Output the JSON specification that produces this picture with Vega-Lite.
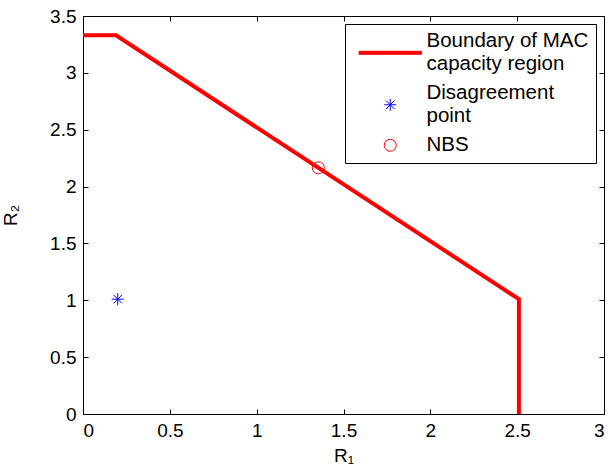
{
  "$schema": "https://vega.github.io/schema/vega-lite/v6.json",
  "autosize": {"type": "none"},
  "padding": {"left": 83, "top": 16, "right": 6, "bottom": 58},
  "width": 521,
  "height": 398,
  "background": "white",
  "config": {
    "font": "Liberation Sans",
    "view": {"stroke": "black", "strokeWidth": 1},
    "axis": {
      "grid": false,
      "domainColor": "black",
      "tickColor": "black",
      "labelColor": "black",
      "titleColor": "black",
      "labelFont": "Liberation Sans",
      "titleFont": "Liberation Sans",
      "labelFontSize": 19,
      "titleFontSize": 19,
      "titleFontWeight": "normal",
      "tickSize": -5,
      "labelPadding": 12,
      "format": "~g"
    }
  },
  "datasets": {
    "boundary": [
      {"i": 0, "R1": 0, "R2": 3.33},
      {"i": 1, "R1": 0.19, "R2": 3.33},
      {"i": 2, "R1": 2.51, "R2": 1.01},
      {"i": 3, "R1": 2.51, "R2": 0}
    ],
    "disagreement": [{"R1": 0.2, "R2": 1.01}],
    "nbs": [{"R1": 1.355, "R2": 2.165}],
    "legend": [
      {"series": "Boundary of MAC|\u2005capacity region"},
      {"series": "Disagreement|\u2005point"},
      {"series": "NBS"}
    ]
  },
  "layer": [
    {
      "data": {"name": "boundary"},
      "mark": {"type": "line", "stroke": "#ff0000", "strokeWidth": 4},
      "encoding": {
        "x": {"field": "R1", "type": "quantitative", "scale": {"domain": [0, 3], "nice": false},
              "axis": {"orient": "bottom", "title": "R₁", "values": [0, 0.5, 1, 1.5, 2, 2.5, 3], "titlePadding": 6}},
        "y": {"field": "R2", "type": "quantitative", "scale": {"domain": [0, 3.5], "nice": false},
              "axis": {"orient": "left", "title": "R₂", "values": [0, 0.5, 1, 1.5, 2, 2.5, 3, 3.5], "titlePadding": 29}},
        "order": {"field": "i"}
      }
    },
    {
      "data": {"name": "disagreement"},
      "mark": {"type": "point", "filled": false, "stroke": "#0000ff", "strokeWidth": 1, "size": 144, "opacity": 1,
               "shape": "M0,-1V1M-1,0H1M-0.7,-0.7L0.7,0.7M-0.7,0.7L0.7,-0.7"},
      "encoding": {
        "x": {"field": "R1", "type": "quantitative",
              "axis": {"orient": "top", "title": null, "labels": false, "values": [0, 0.5, 1, 1.5, 2, 2.5, 3]}},
        "y": {"field": "R2", "type": "quantitative",
              "axis": {"orient": "right", "title": null, "labels": false, "values": [0, 0.5, 1, 1.5, 2, 2.5, 3, 3.5]}}
      }
    },
    {
      "data": {"name": "nbs"},
      "mark": {"type": "point", "filled": false, "stroke": "#ff0000", "strokeWidth": 1, "size": 144, "opacity": 1, "shape": "circle"},
      "encoding": {
        "x": {"field": "R1", "type": "quantitative", "axis": null},
        "y": {"field": "R2", "type": "quantitative", "axis": null}
      }
    },
    {
      "data": {"name": "legend"},
      "mark": {"type": "point", "size": 0, "strokeWidth": 1, "opacity": 1},
      "encoding": {
        "fill": {
          "field": "series", "type": "nominal",
          "scale": {"domain": ["Boundary of MAC|\u2005capacity region", "Disagreement|\u2005point", "NBS"], "range": ["#ff0000", "transparent", "transparent"]},
          "legend": {
            "title": null,
            "orient": "none",
            "legendX": 262,
            "legendY": 8,
            "strokeColor": "black",
            "fillColor": "white",
            "padding": 7,
            "symbolOffset": 28,
            "labelOffset": 26,
            "rowPadding": 8,
            "labelFontSize": 20.5,
            "labelColor": "black",
            "labelLimit": 400,
            "labelExpr": "split(datum.label, '|')",
            "symbolSize": 144,
            "symbolStrokeWidth": 1,
            "symbolOpacity": 1
          }
        },
        "stroke": {
          "field": "series", "type": "nominal",
          "scale": {"domain": ["Boundary of MAC|\u2005capacity region", "Disagreement|\u2005point", "NBS"], "range": ["#ff0000", "#0000ff", "#ff0000"]},
          "legend": {"title": null}
        },
        "shape": {
          "field": "series", "type": "nominal",
          "scale": {"domain": ["Boundary of MAC|\u2005capacity region", "Disagreement|\u2005point", "NBS"],
                    "range": ["M-5.2,1.67H5.2V2.17H-5.2Z", "M0,0.92V2.92M-1,1.92H1M-0.7,1.22L0.7,2.62M-0.7,2.62L0.7,1.22", "circle"]},
          "legend": {"title": null}
        }
      }
    }
  ],
  "resolve": {"axis": {"x": "independent", "y": "independent"}}
}
